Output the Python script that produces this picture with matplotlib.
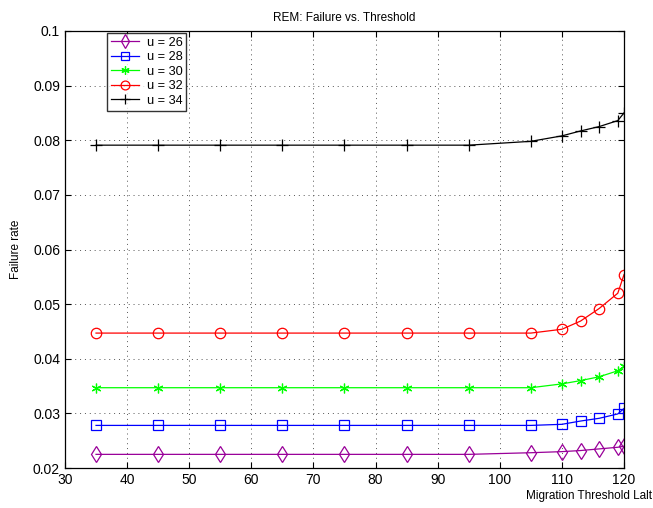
import matplotlib
matplotlib.use("Agg")
import matplotlib.pyplot as plt

plt.rcParams['font.family'] = ['Liberation Sans', 'DejaVu Sans']

thresholds = [35, 45, 55, 65, 75, 85, 95, 105, 110, 113, 116, 119, 120]

rate_u26 = [0.0225, 0.0225, 0.0225, 0.0225, 0.0225, 0.0225, 0.0225,
            0.0228, 0.0230, 0.0232, 0.0235, 0.0238, 0.0240]
rate_u28 = [0.0278, 0.0278, 0.0278, 0.0278, 0.0278, 0.0278, 0.0278,
            0.0278, 0.0280, 0.0286, 0.0291, 0.0299, 0.0309]
rate_u30 = [0.0347, 0.0347, 0.0347, 0.0347, 0.0347, 0.0347, 0.0347,
            0.0347, 0.0354, 0.0360, 0.0367, 0.0378, 0.0386]
rate_u32 = [0.0447, 0.0447, 0.0447, 0.0447, 0.0447, 0.0447, 0.0447,
            0.0447, 0.0454, 0.0469, 0.0492, 0.0520, 0.0554]
rate_u34 = [0.0791, 0.0791, 0.0791, 0.0791, 0.0791, 0.0791, 0.0791,
            0.0798, 0.0808, 0.0817, 0.0825, 0.0836, 0.0850]

labels = ['u = 26', 'u = 28', 'u = 30', 'u = 32', 'u = 34']
series = [rate_u26, rate_u28, rate_u30, rate_u32, rate_u34]
# asterisk drawn as a 6-spoke marker, like MATLAB's '*'
styles = [('d', 8, '#990099'), ('s', 6.5, '#0000ff'), ((6, 2, 0), 7, '#00ff00'),
          ('o', 7.5, '#ff0000'), ('+', 8, '#000000')]

fig = plt.figure(figsize=(6.53, 5.08), dpi=100)
ax = fig.add_axes([0.0995, 0.0787, 0.8561, 0.8603])

for vals, (mk, ms, col), lab in zip(series, styles, labels):
    ax.plot(thresholds, vals, marker=mk, color=col, linewidth=0.9,
            markersize=ms, markerfacecolor='none', markeredgecolor=col,
            markeredgewidth=0.9, label=lab)

ax.set_xlim(30, 120)
ax.set_ylim(0.02, 0.1)
ax.set_xticks(range(30, 121, 10))
ax.set_yticks([0.02, 0.03, 0.04, 0.05, 0.06, 0.07, 0.08, 0.09, 0.1])
ax.set_yticklabels(['0.02', '0.03', '0.04', '0.05', '0.06', '0.07',
                    '0.08', '0.09', '0.1'])
ax.tick_params(direction='in', top=True, right=True, labelsize=10, length=4)
ax.grid(True, linestyle=(0, (1, 4)), color='#555555', linewidth=0.7)
for sp in ax.spines.values():
    sp.set_linewidth(0.9)

ax.set_title('REM: Failure vs. Threshold', fontsize=8.5, pad=7)
ax.set_ylabel('Failure rate', fontsize=8.5, labelpad=8)
fig.text(0.999, 0.012, 'Migration Threshold Lalt', fontsize=8.5,
         ha='right', va='bottom')

leg = ax.legend(loc='upper left', bbox_to_anchor=(0.072, 1.0), fontsize=9.2,
                frameon=True, fancybox=False, edgecolor='black',
                borderpad=0.3, labelspacing=0.2, handlelength=2.2,
                handletextpad=0.6, borderaxespad=0.15, markerscale=0.85)
leg.get_frame().set_linewidth(1.0)

fig.savefig('out.png', dpi=100)
